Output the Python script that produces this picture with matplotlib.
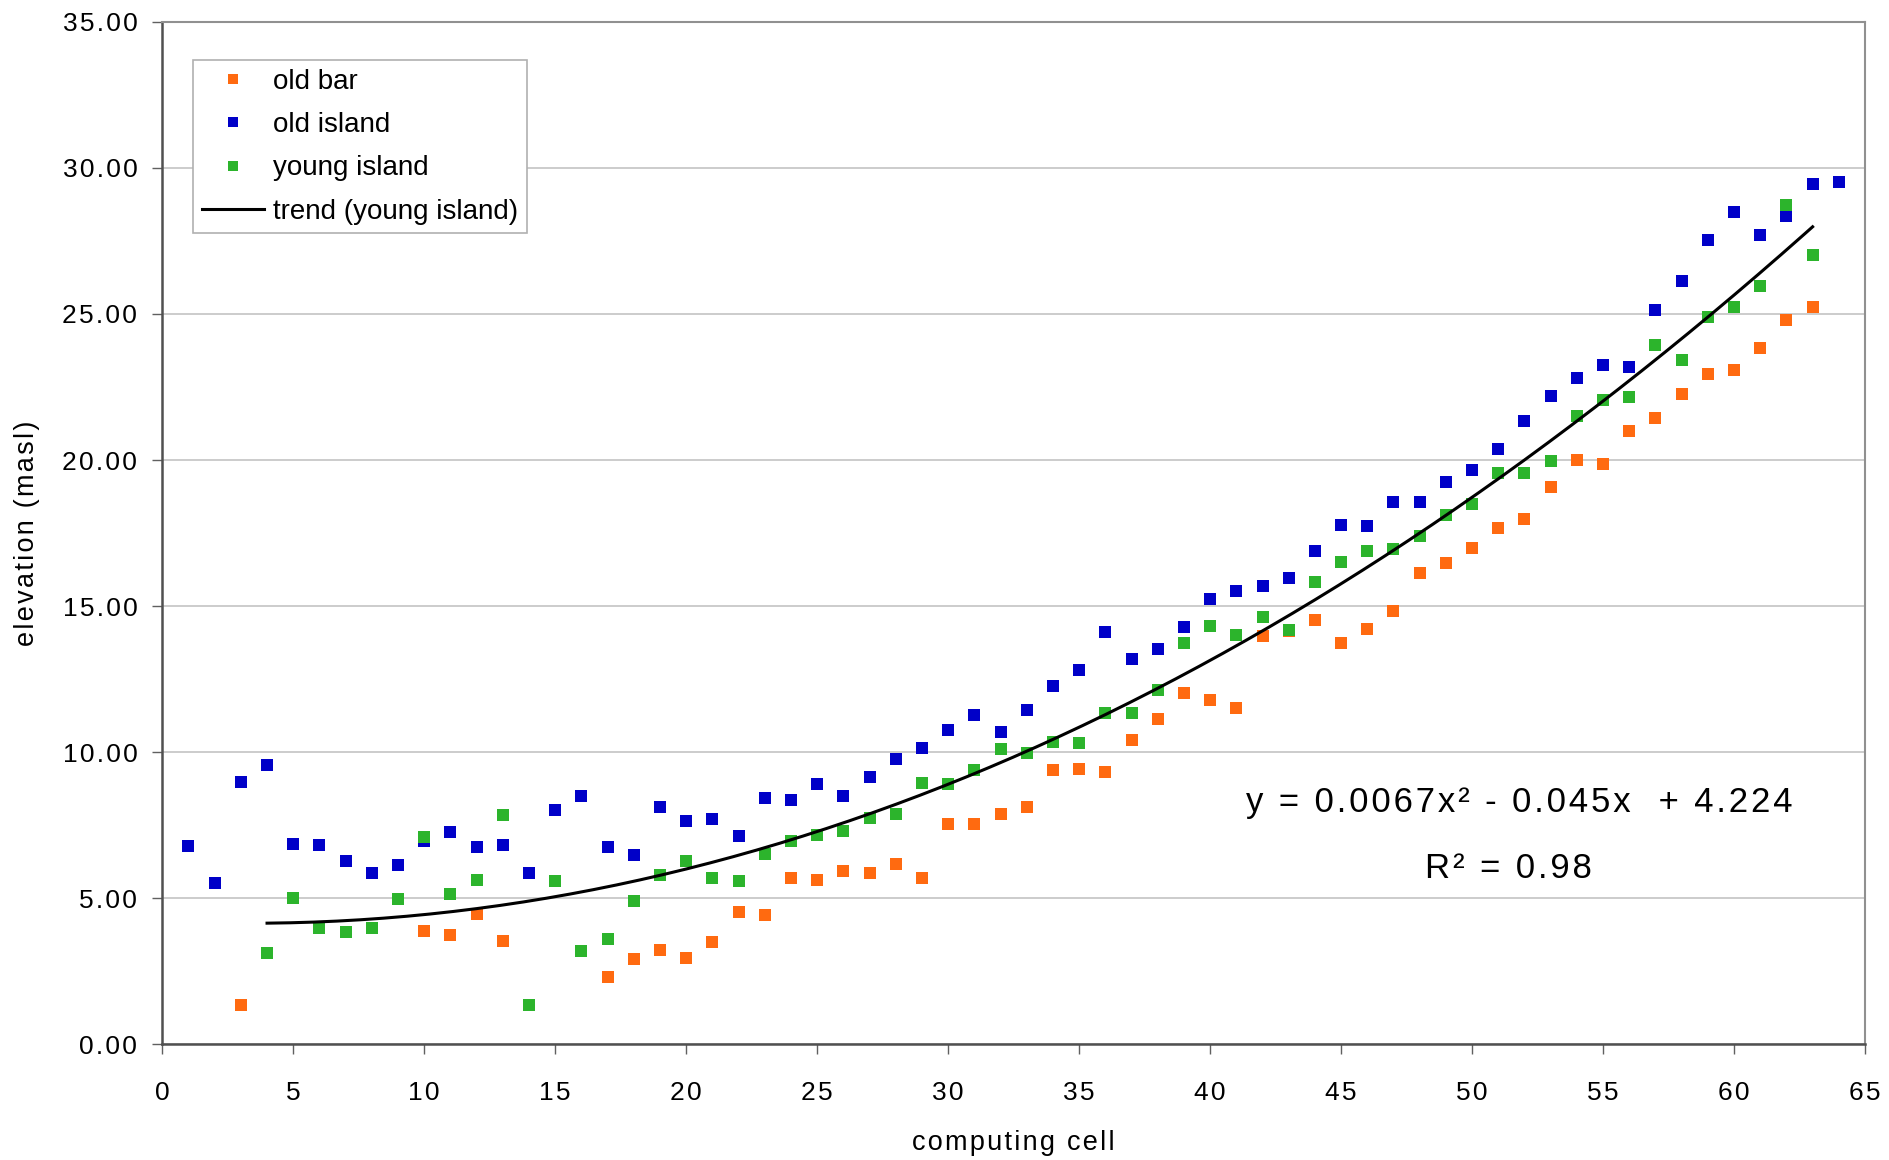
import matplotlib
matplotlib.use('Agg')
import matplotlib.pyplot as plt
from matplotlib.ticker import FuncFormatter
import numpy as np

plt.rcParams['font.family'] = ['Liberation Sans', 'DejaVu Sans']

# elevation (masl) per computing cell
old_bar_x = [3, 10, 11, 12, 13] + list(range(17, 64))
old_bar_y = [1.36, 3.88, 3.74, 4.48, 3.55,
             2.30, 2.92, 3.22, 2.97, 3.50, 4.55, 4.42, 5.69, 5.62, 5.95,
             5.86, 6.19, 5.71, 7.56, 7.56, 7.87, 8.14, 9.40, 9.43, 9.33,
             10.41, 11.15, 12.04, 11.78, 11.51, 13.99, 14.15, 14.54, 13.74, 14.22,
             14.82, 16.14, 16.48, 16.99, 17.68, 17.97, 19.08, 20.01, 19.87, 20.98,
             21.43, 22.27, 22.94, 23.09, 23.82, 24.78, 25.23]

old_island_x = list(range(1, 65))
old_island_y = [6.80, 5.52, 8.98, 9.57, 6.87, 6.82, 6.28, 5.86, 6.15, 6.95,
                7.27, 6.75, 6.83, 5.86, 8.02, 8.51, 6.76, 6.49, 8.11, 7.65,
                7.73, 7.12, 8.44, 8.38, 8.90, 8.50, 9.16, 9.77, 10.15, 10.77,
                11.26, 10.70, 11.45, 12.28, 12.80, 14.12, 13.18, 13.54, 14.30, 15.25,
                15.52, 15.70, 15.96, 16.87, 17.77, 17.73, 18.56, 18.58, 19.24, 19.65,
                20.38, 21.33, 22.20, 22.81, 23.24, 23.19, 25.12, 26.11, 27.52, 28.48,
                27.69, 28.36, 29.46, 29.50]

young_island_x = list(range(4, 64))
young_island_y = [3.14, 5.02, 4.00, 3.84, 3.99, 4.99, 7.10,
                  5.16, 5.64, 7.85, 1.36, 5.58, 3.20, 3.60, 4.90, 5.80, 6.29,
                  5.71, 5.60, 6.53, 6.95, 7.17, 7.29, 7.75, 7.88, 8.96, 8.91,
                  9.40, 10.12, 9.97, 10.35, 10.33, 11.34, 11.36, 12.14, 13.74, 14.33,
                  14.01, 14.63, 14.17, 15.83, 16.52, 16.88, 16.96, 17.39, 18.12, 18.50,
                  19.56, 19.56, 19.98, 21.52, 22.07, 22.14, 23.93, 23.42, 24.89, 25.23,
                  25.95, 28.72, 27.00]

# quadratic trend of the young island series
trend_coef = [0.0067, -0.045, 4.224]
trend_r2 = 0.98

x_ticks = list(range(0, 70, 5))
y_ticks = list(range(0, 40, 5))

c_bar = '#ff6a10'
c_old = '#0000c8'
c_young = '#2cb42c'


def tracked(s):
    # loose letter spacing: hair space between characters
    return '\u200a'.join(s)


fig = plt.figure(figsize=(18.89, 11.60), dpi=100)
ax = fig.add_axes([0.0859, 0.0996, 0.9014, 0.8817])

ax.plot(old_bar_x, old_bar_y, 's', color=c_bar, ms=8, mew=0, label='old bar', zorder=3)
ax.plot(old_island_x, old_island_y, 's', color=c_old, ms=8, mew=0, label='old island', zorder=3)
ax.plot(young_island_x, young_island_y, 's', color=c_young, ms=8, mew=0, label='young island', zorder=3)

xt = np.linspace(young_island_x[0], young_island_x[-1], 200)
yt = np.polyval(trend_coef, xt)
ax.plot(xt, yt, color='black', lw=2.2, label='trend (young island)', zorder=4)

ax.set_xlim(0, 65)
ax.set_ylim(0, 35)
ax.set_xticks(x_ticks)
ax.set_yticks(y_ticks)
ax.xaxis.set_major_formatter(FuncFormatter(lambda v, p: tracked(f'{v:.0f}')))
ax.yaxis.set_major_formatter(FuncFormatter(lambda v, p: tracked(f'{v:.2f}')))
ax.tick_params(axis='both', labelsize=19, length=7, width=1, color='#606060')
ax.tick_params(axis='x', pad=19)
ax.tick_params(axis='y', pad=11)
ax.yaxis.grid(True, color='#c4c4c4', lw=1.2)
ax.set_axisbelow(True)

for side in ['top', 'right']:
    ax.spines[side].set_color('#909090')
    ax.spines[side].set_linewidth(1.5)
for side in ['left', 'bottom']:
    ax.spines[side].set_color('#505050')
    ax.spines[side].set_linewidth(1.8)

ax.set_xlabel(tracked('computing cell'), fontsize=19.5)
ax.xaxis.set_label_coords(0.5, -0.096)
ax.xaxis.label.set_va('center')
ax.set_ylabel(tracked('elevation (masl)'), fontsize=19.5)
ax.yaxis.set_label_coords(-0.0795, 0.5)
ax.yaxis.label.set_va('center')

a, b, c = trend_coef
fig.text(0.8044, 0.3003, tracked(f'y = {a:.4f}x\u00b2 - {abs(b):.3f}x  + {c:.3f}'),
         fontsize=25, ha='center', va='baseline')
fig.text(0.7983, 0.2428, tracked(f'R\u00b2 = {trend_r2:.2f}'),
         fontsize=25, ha='center', va='baseline')

leg = ax.legend(loc='upper left', bbox_to_anchor=(0.0179, 0.9625), borderaxespad=0,
                fontsize=20, markerscale=0.92, labelspacing=0.62, handlelength=2.25,
                handletextpad=0.32, borderpad=0.32, fancybox=False, framealpha=1)
leg.get_frame().set_edgecolor('#b0b0b0')
leg.get_frame().set_linewidth(1.2)

fig.savefig('out.png', dpi=100, facecolor='white')
